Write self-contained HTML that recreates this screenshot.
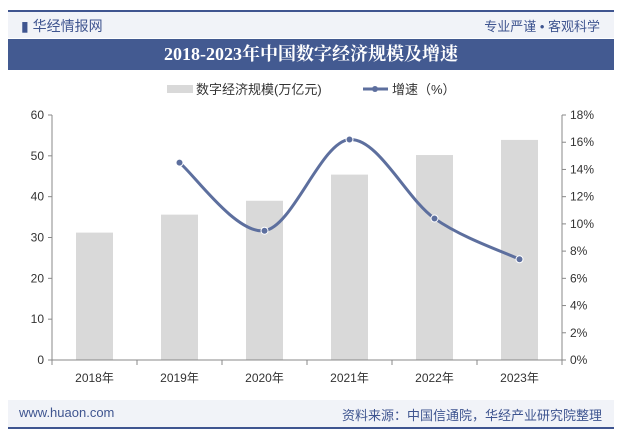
<!DOCTYPE html>
<html><head><meta charset="utf-8"><style>
body{margin:0;width:622px;height:438px;background:#fff;font-family:"Liberation Sans","Noto Sans CJK SC",sans-serif;position:relative;overflow:hidden}
.abs{position:absolute}
</style></head><body>
<div class="abs" style="left:8px;top:10px;width:606px;height:2px;background:#3f5590"></div>
<div class="abs" style="left:8px;top:12px;width:606px;height:26px;background:#f1f3f8"></div>
<div class="abs" style="left:21px;top:16px;font-size:14px;color:#3f5590">▮ 华经情报网</div>
<div class="abs" style="right:22px;top:16px;font-size:13px;color:#3f5590">专业严谨 • 客观科学</div>
<div class="abs" style="left:8px;top:39px;width:606px;height:31px;line-height:31px;background:#435a91;color:#fff;font-family:'Liberation Serif','Noto Serif CJK SC',serif;font-weight:bold;font-size:18px;text-align:center">2018-2023年中国数字经济规模及增速</div>
<svg class="abs" style="left:0;top:0" width="622" height="438" id="chart"></svg>
<div class="abs" style="left:8px;top:400px;width:606px;height:27px;background:#f1f3f8"></div>
<div class="abs" style="left:8px;top:427px;width:606px;height:2px;background:#3f5590"></div>
<div class="abs" style="left:19px;top:405px;font-size:13px;color:#3f5590">www.huaon.com</div>
<div class="abs" style="right:20px;top:405px;font-size:13px;color:#3f5590">资料来源：中国信通院，华经产业研究院整理</div>
<script>
const categories=["2018年","2019年","2020年","2021年","2022年","2023年"];
const scaleValues=[31.2,35.6,39.0,45.4,50.2,53.9];
const growthYears=[1,2,3,4,5];
const growthValues=[14.5,9.5,16.2,10.4,7.4];
const leftTicks=[0,10,20,30,40,50,60];
const rightTicks=[0,2,4,6,8,10,12,14,16,18];
const ns="http://www.w3.org/2000/svg",svg=document.getElementById('chart');
const L=52,R=562,T=115,B=360,band=(R-L)/categories.length;
const yL=v=>B-(v/60)*(B-T), yR=v=>B-(v/18)*(B-T), xC=i=>L+band*(i+0.5);
function el(t,a,txt){const e=document.createElementNS(ns,t);for(const k in a)e.setAttribute(k,a[k]);if(txt!=null)e.textContent=txt;svg.appendChild(e);return e;}
let e=el('rect',{x:167,y:85,width:26,height:8,fill:'#d9d9d9'});

e=el('text',{x:196,y:94,'font-size':13,fill:'#333'},'数字经济规模(万亿元)');

e=el('line',{x1:363,y1:89,x2:388,y2:89,stroke:'#5d6f9e','stroke-width':3});

el('circle',{cx:375,cy:89,r:3,fill:'#5d6f9e'});
e=el('text',{x:392,y:94,'font-size':13,fill:'#333'},'增速（%）');

categories.forEach((c,i)=>{
 const b=el('rect',{x:xC(i)-18.5,y:yL(scaleValues[i]),width:37,height:B-yL(scaleValues[i]),fill:'#d9d9d9'});
 
 const t=el('text',{x:xC(i),y:B+22,'font-size':12,fill:'#333','text-anchor':'middle'},c);
 
});
e=el('line',{x1:L,y1:B,x2:R,y2:B,stroke:'#888'});
e=el('line',{x1:L,y1:T,x2:L,y2:B,stroke:'#888'});
e=el('line',{x1:R,y1:T,x2:R,y2:B,stroke:'#888'});
for(let i=0;i<=categories.length;i++)el('line',{x1:L+band*i,y1:B,x2:L+band*i,y2:B+5,stroke:'#888'});
leftTicks.forEach(v=>{el('line',{x1:L-4,y1:yL(v),x2:L,y2:yL(v),stroke:'#888'});
 const t=el('text',{x:L-8,y:yL(v)+4,'font-size':12,fill:'#333','text-anchor':'end'},v);
 });
rightTicks.forEach(v=>{el('line',{x1:R,y1:yR(v),x2:R+4,y2:yR(v),stroke:'#888'});
 const t=el('text',{x:R+8,y:yR(v)+4,'font-size':12,fill:'#333'},v+'%');
 });
const pts=growthYears.map((g,i)=>[xC(g),yR(growthValues[i])]);
let d='M'+pts[0][0]+','+pts[0][1];
for(let i=0;i<pts.length-1;i++){const p0=pts[i-1]||pts[i],p1=pts[i],p2=pts[i+1],p3=pts[i+2]||p2;
 d+=` C${p1[0]+(p2[0]-p0[0])/6},${p1[1]+(p2[1]-p0[1])/6} ${p2[0]-(p3[0]-p1[0])/6},${p2[1]-(p3[1]-p1[1])/6} ${p2[0]},${p2[1]}`;}
e=el('path',{d:d,fill:'none',stroke:'#5d6f9e','stroke-width':3});

pts.forEach(p=>{const c=el('circle',{cx:p[0],cy:p[1],r:3.5,fill:'#5d6f9e',stroke:'#fff','stroke-width':1});
 });
</script>
</body></html>
